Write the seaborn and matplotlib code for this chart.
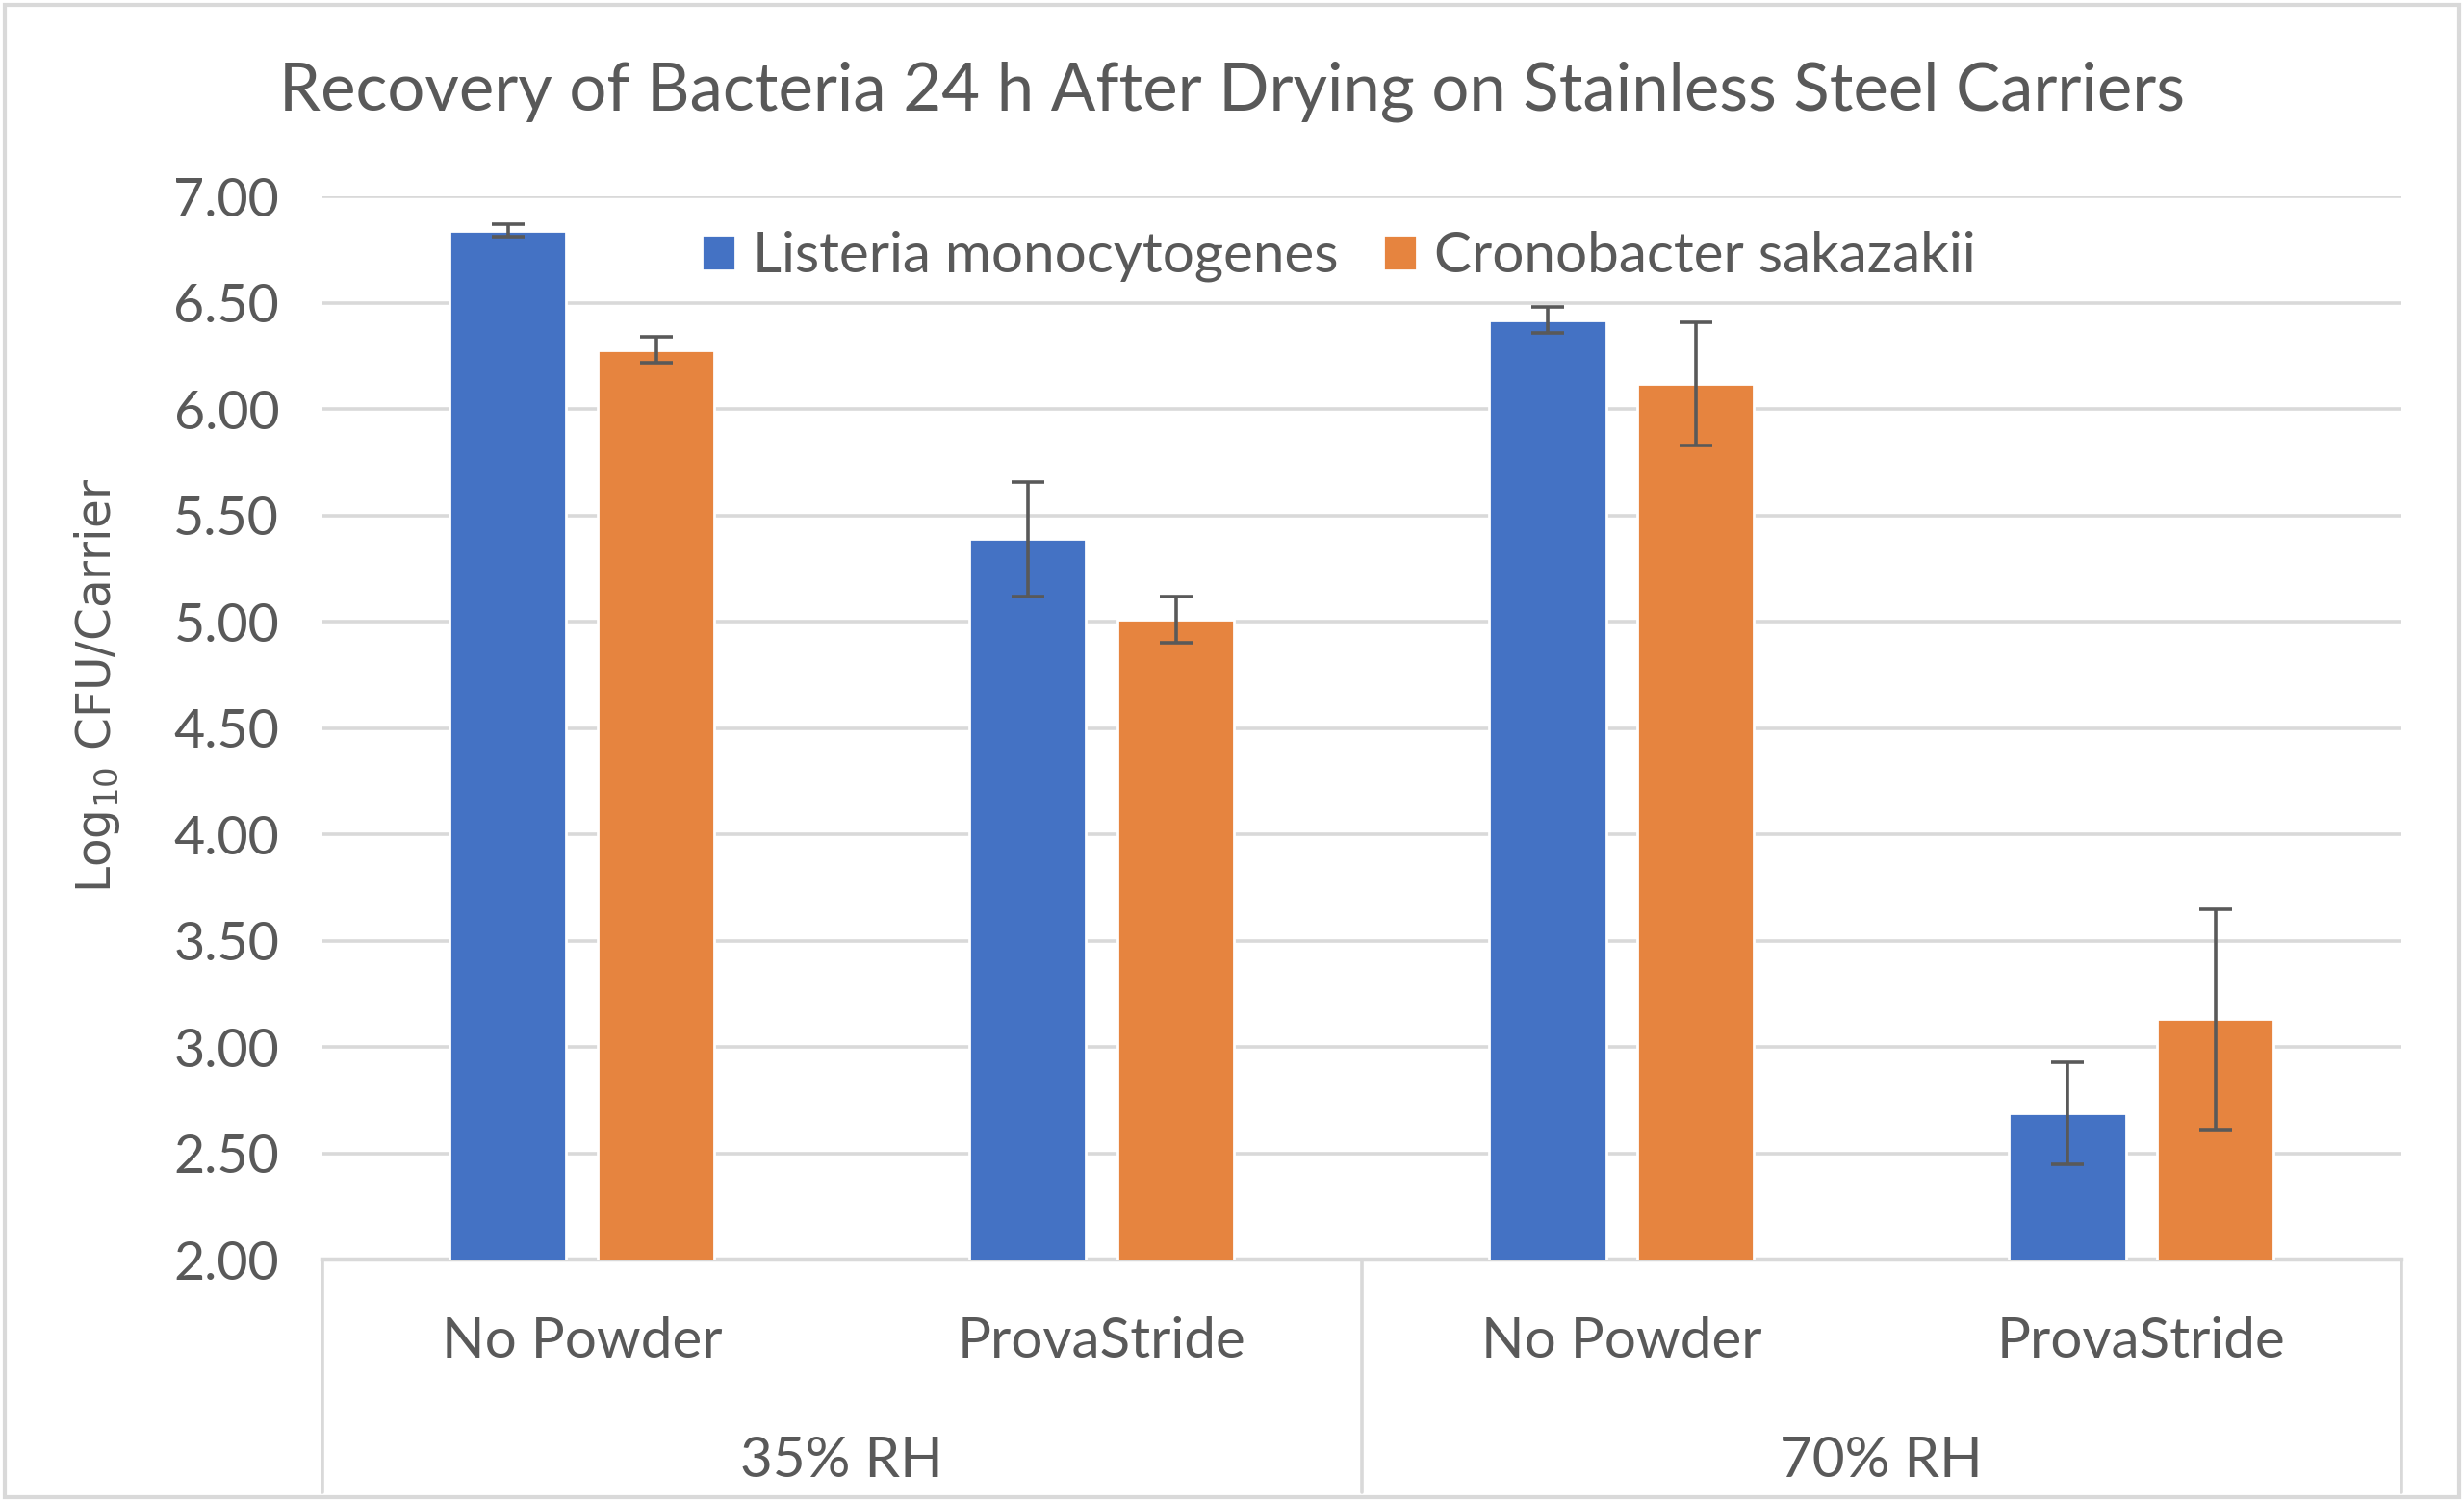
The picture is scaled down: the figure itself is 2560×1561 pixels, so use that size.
import numpy as np
import pandas as pd
import seaborn as sns
import matplotlib.pyplot as plt
from matplotlib.patches import Rectangle
import matplotlib.transforms as mtransforms

# data
rh_groups = ["35% RH", "70% RH"]
treatments = ["No Powder", "ProvaStride", "No Powder", "ProvaStride"]
species = ["Listeria monocytogenes", "Cronobacter sakazakii"]
listeria_mean = [6.84, 5.39, 6.42, 2.69]
listeria_sd = [0.03, 0.27, 0.06, 0.24]
crono_mean = [6.28, 5.01, 6.12, 3.13]
crono_sd = [0.06, 0.11, 0.29, 0.52]
yticks = [2.0, 2.5, 3.0, 3.5, 4.0, 4.5, 5.0, 5.5, 6.0, 6.5, 7.0]

keys = [f"{rh_groups[i // 2]} {t}" for i, t in enumerate(treatments)]
df = pd.DataFrame({
    "cond": keys * 2,
    "species": [species[0]] * 4 + [species[1]] * 4,
    "mean": listeria_mean + crono_mean,
    "sd": listeria_sd + crono_sd,
})

sns.set_theme(style="white")
plt.rcParams['font.family'] = ['Lato', 'DejaVu Sans']
text_col = "#595959"
grid_col = "#d9d9d9"

fig = plt.figure(figsize=(12.8, 7.805), dpi=200)
ax = fig.add_axes([0.1307, 0.1614, 0.8438, 0.7076])

sns.barplot(data=df, x="cond", y="mean", hue="species", order=keys,
            hue_order=species, palette=["#4472C4", "#E6843F"], saturation=1,
            errorbar=None, width=0.57, gap=0.21, ax=ax, zorder=3)

# error bars at each bar top
sds = [listeria_sd, crono_sd]
for cont, sd in zip(ax.containers, sds):
    xs = [p.get_x() + p.get_width() / 2 for p in cont]
    ys = [p.get_height() for p in cont]
    ax.errorbar(xs, ys, yerr=sd, fmt="none", ecolor=text_col,
                elinewidth=1.3, capsize=6, capthick=1.3, zorder=4)

ax.set_ylim(2, 7)
ax.set_xlim(-0.5, 3.5)
ax.set_yticks(yticks)
ax.set_yticklabels([f"{v:.2f}" for v in yticks], fontsize=20, color=text_col)
ax.tick_params(axis="y", length=0, pad=16)
ax.yaxis.grid(True, color=grid_col, lw=1.3, zorder=0)
ax.set_axisbelow(True)
for s in ["top", "right", "left"]:
    ax.spines[s].set_visible(False)
ax.spines["bottom"].set_color(grid_col)
ax.spines["bottom"].set_linewidth(1.6)
ax.set_xticks([])
ax.set_xlabel("")
ax.set_ylabel(r"Log$_{10}$ CFU/Carrier", fontsize=17.5, color=text_col,
              family="DejaVu Sans")
ax.yaxis.set_label_coords(-0.096, 0.54)

# two-level category axis
trans = mtransforms.blended_transform_factory(ax.transData, ax.transAxes)
for i, t in enumerate(treatments):
    ax.text(i, -0.077, t, transform=trans, ha="center", va="center",
            fontsize=21, color=text_col)
for j, g in enumerate(rh_groups):
    ax.text(2 * j + 0.5, -0.19, g, transform=trans, ha="center", va="center",
            fontsize=21, color=text_col)
for xv in [-0.5, 1.5, 3.5]:
    ax.plot([xv, xv], [0, -0.219], transform=trans, color=grid_col,
            lw=1.3, clip_on=False)

handles, labels = ax.get_legend_handles_labels()
ax.legend(handles, labels, loc="center", bbox_to_anchor=(0.489, 0.944),
          ncol=2, frameon=False, fontsize=21, labelcolor=text_col,
          handlelength=0.6, handleheight=0.6, handletextpad=0.3,
          columnspacing=0.8)

fig.text(0.5, 0.939, "Recovery of Bacteria 24 h After Drying on Stainless Steel Carriers",
         ha="center", va="center", fontsize=24.8, color=text_col)

fig.patches.append(Rectangle((0.002, 0.003), 0.996, 0.994, transform=fig.transFigure,
                             fill=False, edgecolor=grid_col, lw=1.5))

fig.savefig("out.png", dpi=200)
